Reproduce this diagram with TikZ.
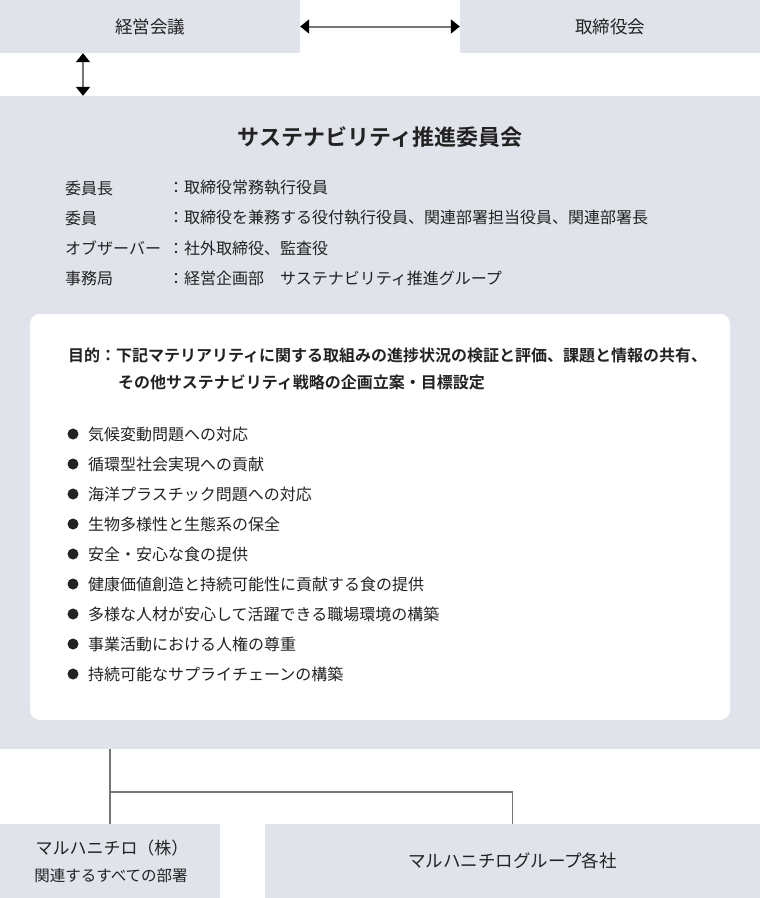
\documentclass[tikz,border=0pt]{standalone}
\usepackage{fontspec}
\setmainfont{Noto Sans CJK JP}[BoldFont={Noto Sans CJK JP Bold}]
\usetikzlibrary{arrows.meta,positioning}
\definecolor{boxgray}{HTML}{E1E3EB}
\definecolor{linegray}{HTML}{767676}
\definecolor{ink}{HTML}{222222}

\begin{document}
\begin{tikzpicture}[x=1pt,y=-1pt,
	box/.style={fill=boxgray,inner sep=0pt,text=ink},
	conn/.style={linegray,line width=1.5pt},
	arr/.style={linegray,line width=2pt,{Triangle[length=9pt,width=14pt,color=black]}-{Triangle[length=9pt,width=14pt,color=black]}},
	txt/.style={text=ink,inner sep=0pt,anchor=west,font=\fontsize{16}{19}\selectfont},
	head/.style={text=ink,inner sep=0pt,font=\fontsize{17.5}{20}\selectfont}]
	\useasboundingbox (0,0) rectangle (760,898);
	% top row
	\node[box,minimum width=300pt,minimum height=53pt] (keiei) at (150,26.5) {};
	\node[head] (keieiT) at (keiei) {経営会議};
	\node[box,minimum width=300pt,minimum height=53pt] (tori) at (610,26.5) {};
	\node[head] (toriT) at (tori) {取締役会};
	% committee
	\node[box,minimum width=760pt,minimum height=653pt] (iinkai) at (380,422.5) {};
	\node[text=ink,inner sep=0pt,font=\fontsize{22}{25}\selectfont\bfseries] (title) at (380,137) {サステナビリティ推進委員会};
	\draw[arr] (keiei.east) -- (tori.west);
	\coordinate (va) at (83,0);
	\draw[arr] (va |- keiei.south) -- (va |- iinkai.north);
	\node[txt] (chair) at (65,188) {委員長};
	\node[txt] (chairV) at (168,188) {：取締役常務執行役員};
	\node[txt] (member) at (65,218) {委員};
	\node[txt] (memberV) at (168,218) {：取締役を兼務する役付執行役員、関連部署担当役員、関連部署長};
	\node[txt] (obs) at (65,248) {オブザーバー};
	\node[txt] (obsV) at (168,248) {：社外取締役、監査役};
	\node[txt] (office) at (65,278) {事務局};
	\node[txt] (officeV) at (168,278) {：経営企画部　サステナビリティ推進グループ};
	% purpose panel
	\node[fill=white,rounded corners=10pt,minimum width=700pt,minimum height=406pt] (panel) at (380,517) {};
	\node[txt,font=\fontsize{16}{19}\selectfont\bfseries] (aim) at (68,355) {目的：下記マテリアリティに関する取組みの進捗状況の検証と評価、課題と情報の共有、};
	\node[txt,font=\fontsize{16}{19}\selectfont\bfseries] (aimB) at (118,382) {その他サステナビリティ戦略の企画立案・目標設定};
	\node[txt] (b1) at (88,434) {気候変動問題への対応};
	\node[txt] (b2) at (88,464) {循環型社会実現への貢献};
	\node[txt] (b3) at (88,494) {海洋プラスチック問題への対応};
	\node[txt] (b4) at (88,524) {生物多様性と生態系の保全};
	\node[txt] (b5) at (88,554) {安全・安心な食の提供};
	\node[txt] (b6) at (88,584) {健康価値創造と持続可能性に貢献する食の提供};
	\node[txt] (b7) at (88,614) {多様な人材が安心して活躍できる職場環境の構築};
	\node[txt] (b8) at (88,644) {事業活動における人権の尊重};
	\node[txt] (b9) at (88,674) {持続可能なサプライチェーンの構築};
	\fill[ink] (73,434) circle (5.5);
	\fill[ink] (73,464) circle (5.5);
	\fill[ink] (73,494) circle (5.5);
	\fill[ink] (73,524) circle (5.5);
	\fill[ink] (73,554) circle (5.5);
	\fill[ink] (73,584) circle (5.5);
	\fill[ink] (73,614) circle (5.5);
	\fill[ink] (73,644) circle (5.5);
	\fill[ink] (73,674) circle (5.5);
	% bottom row
	\node[box,minimum width=220pt,minimum height=74pt] (maruha) at (110,861) {};
	\node[head,font=\fontsize{17}{20}\selectfont] (maruhaA) at (112,848) {マルハニチロ（株）};
	\node[head,font=\fontsize{15.5}{18}\selectfont] (maruhaB) at (111,876) {関連するすべての部署};
	\node[box,minimum width=495pt,minimum height=74pt] (group) at (512.5,861) {};
	\node[head] (groupT) at (group) {マルハニチログループ各社};
	\coordinate (split) at (110,792);
	\draw[conn] (iinkai.south -| maruha) -- (maruha.north);
	\draw[conn] (split) -| (group.north);
\end{tikzpicture}
\end{document}
